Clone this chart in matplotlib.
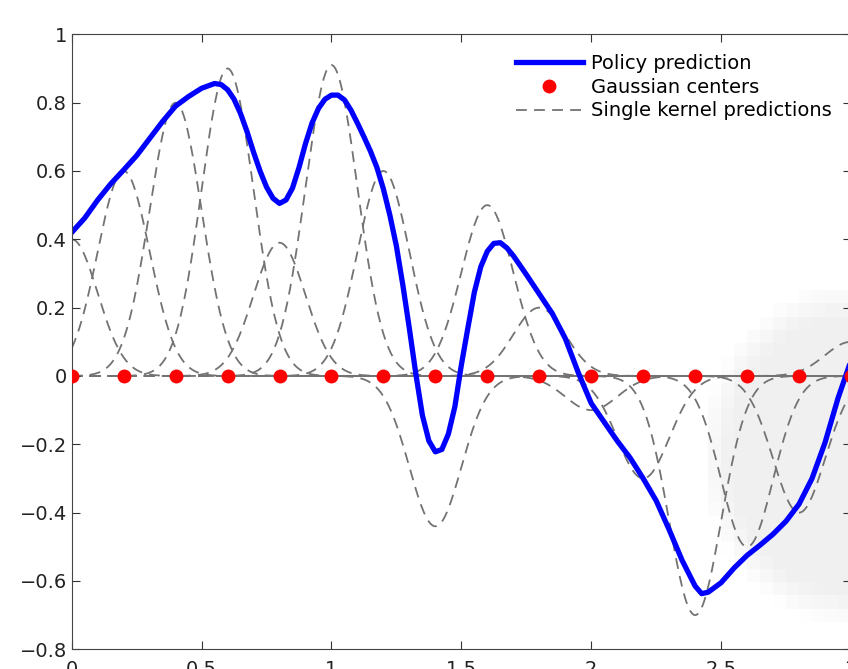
import numpy as np
import matplotlib.pyplot as plt
from matplotlib.ticker import FuncFormatter

# kernel centers and the weight of each single kernel
centers = [0.0, 0.2, 0.4, 0.6, 0.8, 1.0, 1.2, 1.4, 1.6, 1.8, 2.0, 2.2, 2.4, 2.6, 2.8, 3.0]
weights = [0.40, 0.60, 0.80, 0.90, 0.39, 0.91, 0.60, -0.44, 0.50, 0.20,
           -0.10, -0.30, -0.70, -0.50, -0.40, 0.10]
width = 0.1

# policy prediction (blue curve)
px = [0.0, 0.05, 0.1, 0.15, 0.2, 0.25, 0.3, 0.35, 0.4, 0.45, 0.5, 0.55, 0.575,
      0.6, 0.625, 0.65, 0.675, 0.7, 0.725, 0.75, 0.775, 0.8, 0.825, 0.85,
      0.875, 0.9, 0.925, 0.95, 0.975, 1.0, 1.025, 1.05, 1.075, 1.1, 1.125,
      1.15, 1.175, 1.2, 1.225, 1.25, 1.275, 1.3, 1.325, 1.35, 1.375, 1.4,
      1.425, 1.45, 1.475, 1.5, 1.525, 1.55, 1.575, 1.6, 1.625, 1.65, 1.675,
      1.7, 1.75, 1.8, 1.85, 1.9, 1.95, 2.0, 2.05, 2.1, 2.15, 2.2, 2.25, 2.3,
      2.35, 2.4, 2.425, 2.45, 2.5, 2.55, 2.6, 2.65, 2.7, 2.75, 2.8, 2.85, 2.9,
      2.95, 3.0]
py = [0.420, 0.462, 0.515, 0.562, 0.603, 0.645, 0.695, 0.745, 0.790, 0.818,
      0.842, 0.856, 0.853, 0.838, 0.810, 0.768, 0.715, 0.655, 0.600, 0.553,
      0.520, 0.505, 0.515, 0.550, 0.610, 0.680, 0.740, 0.783, 0.810, 0.822,
      0.822, 0.808, 0.778, 0.740, 0.700, 0.658, 0.610, 0.547, 0.470, 0.380,
      0.265, 0.138, 0.005, -0.115, -0.190, -0.222, -0.215, -0.170, -0.090,
      0.032, 0.140, 0.245, 0.320, 0.365, 0.388, 0.390, 0.375, 0.352, 0.297,
      0.240, 0.183, 0.110, 0.010, -0.080, -0.135, -0.190, -0.240, -0.300,
      -0.365, -0.450, -0.540, -0.615, -0.637, -0.633, -0.605, -0.562, -0.525,
      -0.495, -0.463, -0.425, -0.375, -0.300, -0.195, -0.065, 0.045]

fig = plt.figure(figsize=(8.48, 6.69), dpi=100)
ax = fig.add_axes([71.7/848, 19.7/669, 779.3/848, 615/669])

# faint grey smudge in the lower right corner of the original image
gx, gy = np.meshgrid(np.linspace(2.45, 3.0, 11), np.linspace(0.25, -0.72, 25))
d = ((gx-3.03)/0.58)**2 + ((gy+0.23)/0.47)**2
smudge = 1 - 0.06*np.clip((1.25-d)/0.45, 0, 1)
ax.imshow(smudge, cmap="gray", vmin=0, vmax=1, extent=(2.45, 3.0, -0.72, 0.25),
          aspect="auto", interpolation="nearest", zorder=0)

xs = np.linspace(0, 3, 601)
for i, (c, w) in enumerate(zip(centers, weights)):
    ax.plot(xs, w*np.exp(-(xs-c)**2/(2*width**2)), color="0.45", lw=1.3,
            dashes=(6, 4), zorder=1,
            label="Single kernel predictions" if i == 0 else None)

ax.plot(px, py, color="#0000ff", lw=3.8, zorder=2, label="Policy prediction",
        solid_joinstyle="round")
ax.plot(centers, np.zeros(len(centers)), "o", color="#ff0000", ms=10,
        mec="none", zorder=3, label="Gaussian centers")

ax.set_xlim(0, 3)
ax.set_ylim(-0.8, 1)
ax.set_xticks(np.arange(0, 3.01, 0.5))
ax.set_yticks(np.arange(-0.8, 1.01, 0.2))
fmt = FuncFormatter(lambda v, p: ("%g" % (round(v, 2) + 0.0)).replace("-", "\u2212"))
ax.xaxis.set_major_formatter(fmt)
ax.yaxis.set_major_formatter(fmt)
ax.tick_params(direction="in", top=True, right=True, length=6, labelsize=14,
               colors="#333333", labelcolor="#222222")
ax.tick_params(axis="x", pad=8)
for s in ax.spines.values():
    s.set_color("#444444")

h, l = ax.get_legend_handles_labels()
order = [l.index("Policy prediction"), l.index("Gaussian centers"),
         l.index("Single kernel predictions")]
ax.legend([h[i] for i in order], [l[i] for i in order], loc="upper right",
          frameon=False, fontsize=14, handlelength=3.45, numpoints=1,
          labelspacing=0.25, handletextpad=0.4, borderaxespad=0.6)

fig.savefig("out.png", dpi=100)
